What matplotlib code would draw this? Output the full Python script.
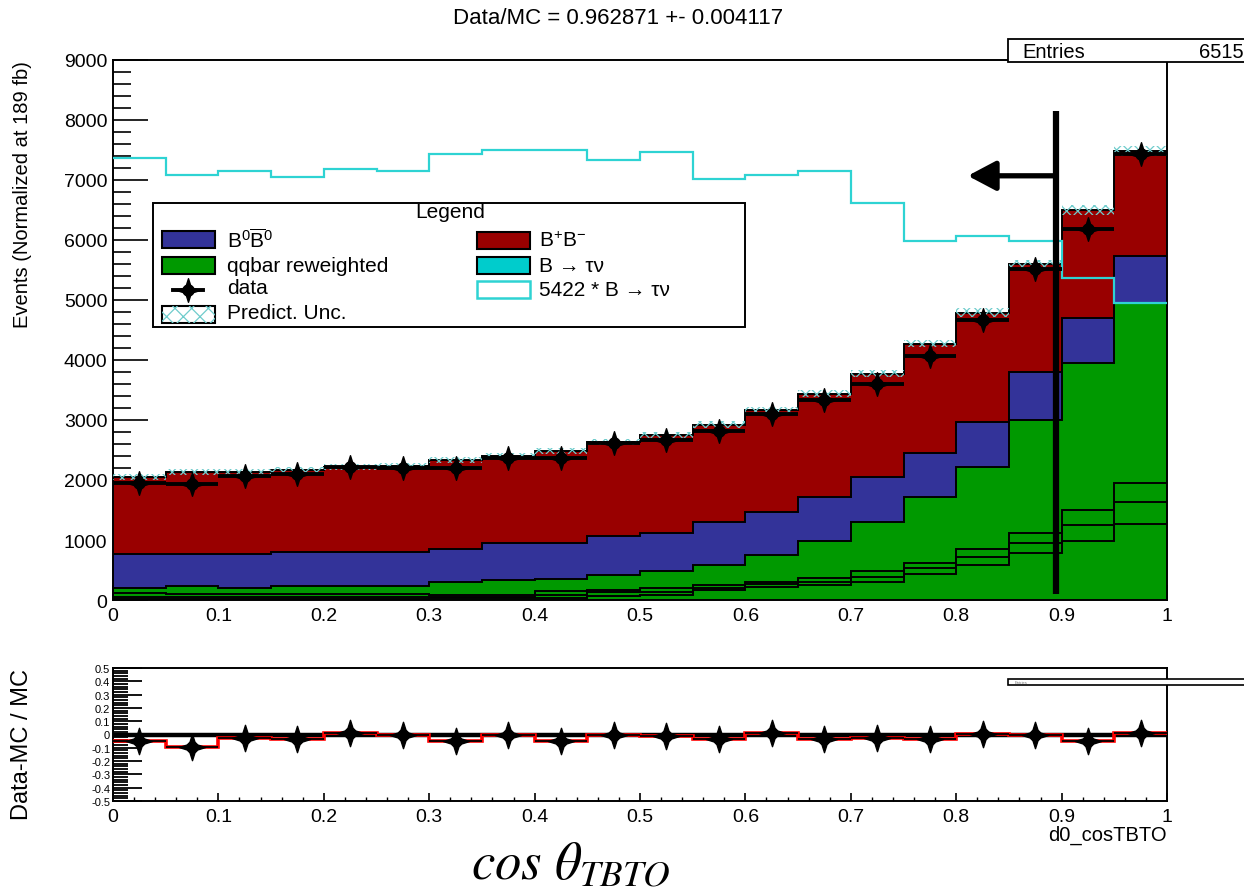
"""Stacked MC vs data plot for d0_cosTBTO with a Data-MC/MC ratio panel."""
import matplotlib

matplotlib.use("Agg")

import matplotlib.pyplot as plt
import numpy as np
from matplotlib.lines import Line2D
from matplotlib.patches import Rectangle
from matplotlib.path import Path
from matplotlib.ticker import FuncFormatter, MultipleLocator

# ---------------------------------------------------------------- data
N_BINS = 20
X_MIN, X_MAX = 0.0, 1.0

# qqbar reweighted, split in four stacked pieces (bottom to top)
qq_part1 = [20, 20, 20, 22, 22, 22, 30, 30, 40, 60, 90, 160, 222, 250, 305, 428, 583, 778, 983, 1267]
qq_part2 = [24, 24, 24, 22, 22, 22, 25, 25, 50, 79, 49, 45, 39, 55, 84, 111, 139, 166, 267, 361]
qq_part3 = [66, 56, 56, 56, 56, 56, 34, 34, 55, 28, 55, 45, 44, 56, 94, 83, 128, 178, 250, 316]
qq_part4 = [90, 128, 94, 128, 128, 128, 205, 244, 205, 255, 296, 333, 445, 622, 823, 1100, 1372, 1878, 2445, 3006]
b0b0bar = [560, 532, 566, 572, 572, 572, 556, 611, 594, 638, 621, 723, 711, 739, 750, 722, 750, 795, 750, 779]
bpbm = [1290, 1375, 1375, 1370, 1415, 1435, 1480, 1456, 1536, 1570, 1634, 1619, 1704, 1718, 1719, 1831, 1818, 1805, 1805, 1751]

# 5422 * B -> tau nu (open cyan histogram)
btaunu_scaled = [7367, 7083, 7145, 7045, 7178, 7150, 7433, 7500, 7500, 7328,
                 7461, 7017, 7083, 7145, 6617, 5990, 6073, 5990, 5360, 4950]

# prediction uncertainty (half width of the hatched band)
pred_unc = [45, 45, 45, 45, 45, 45, 48, 48, 50, 52, 52, 55, 57, 60, 62, 65, 70, 75, 80, 85]

data_counts = [1955, 1930, 2070, 2095, 2210, 2200, 2200, 2370, 2360, 2610,
               2660, 2820, 3100, 3340, 3600, 4075, 4675, 5520, 6185, 7435]
data_err = [44, 44, 46, 46, 47, 47, 47, 49, 49, 51, 52, 53, 56, 58, 60, 64, 68, 74, 79, 86]

ratio_points = [-0.047, -0.096, -0.029, -0.034, 0.011, -0.004, -0.047, -0.004, -0.047, -0.004,
                -0.009, -0.034, 0.011, -0.034, -0.030, -0.034, 0.004, -0.004, -0.047, 0.010]
ratio_err = [0.022, 0.022, 0.022, 0.022, 0.021, 0.021, 0.021, 0.020, 0.020, 0.019,
             0.019, 0.018, 0.018, 0.017, 0.016, 0.015, 0.014, 0.013, 0.012, 0.011]

TITLE = "Data/MC = 0.962871 +- 0.004117"
ENTRIES = "6515"
SIGNAL_SCALE = 5422

# cut marker
CUT_VALUE = 0.895
CUT_LOW, CUT_HIGH = 100, 8150
ARROW_Y = 7070
ARROW_TIP = 0.811

# ---------------------------------------------------------------- style
BPM_COLOR = "#990000"
B0_COLOR = "#333399"
QQ_COLOR = "#009900"
SIG_COLOR = "#00cccc"
SIG_LINE_COLOR = "#2ed3d3"
UNC_COLOR = "#6fcccc"

W, H = 1244, 895

plt.rcParams.update(
    {
        "font.family": ["Liberation Sans", "DejaVu Sans"],
        "axes.unicode_minus": False,
        "mathtext.fontset": "custom",
        "mathtext.rm": "Liberation Sans",
        "mathtext.it": "Liberation Serif:italic",
        "mathtext.bf": "Liberation Sans:bold",
        "hatch.linewidth": 0.9,
        "axes.linewidth": 1.4,
    }
)


def fx(x):
    return x / W


def fy(y):
    return 1 - y / H


def star_marker(inner=0.34):
    ang = np.deg2rad(np.arange(0, 360, 45))
    r = np.where(np.arange(8) % 2 == 0, 1.0, inner)
    verts = np.column_stack([r * np.sin(ang), r * np.cos(ang)])
    return Path(np.vstack([verts, verts[:1]]), closed=True)


STAR = star_marker()

edges = np.linspace(X_MIN, X_MAX, N_BINS + 1)
centers = 0.5 * (edges[:-1] + edges[1:])
half_w = 0.5 * (edges[1] - edges[0])

fig = plt.figure(figsize=(W / 100, H / 100), dpi=100)
ax = fig.add_axes([fx(113), fy(601), fx(1167) - fx(113), fy(61) - fy(601)])
ax_r = fig.add_axes([fx(113), fy(802), fx(1167) - fx(113), fy(669) - fy(802)])

# ---------------------------------------------------------------- main panel
components = [qq_part1, qq_part2, qq_part3, qq_part4, b0b0bar, bpbm]
comp_colors = [QQ_COLOR] * 4 + [B0_COLOR, BPM_COLOR]
bottom = np.zeros(N_BINS)
for vals, col in zip(components, comp_colors):
    top = bottom + np.asarray(vals, dtype=float)
    ax.stairs(top, edges, baseline=bottom, fill=True, color=col, lw=0, zorder=1)
    ax.stairs(top, edges, baseline=None, color="black", lw=1.4, zorder=2)
    bottom = top
total = bottom

unc = np.asarray(pred_unc, dtype=float)
ax.stairs(total + unc, edges, baseline=total - unc, fill=True, facecolor="none",
          edgecolor=UNC_COLOR, hatch="xxx", lw=0, zorder=3)

ax.stairs(btaunu_scaled, edges, baseline=None, color=SIG_LINE_COLOR, lw=1.6, zorder=4)

ax.errorbar(centers, data_counts, xerr=half_w, yerr=data_err, fmt="none",
            ecolor="black", elinewidth=2.8, capsize=0, zorder=6)
ax.plot(centers, data_counts, ls="none", marker=STAR, ms=17, color="black", zorder=7)
ax.plot(centers, data_counts, ls="none", marker="o", ms=8, color="black", zorder=7)

# cut line and arrow
ax.plot([CUT_VALUE, CUT_VALUE], [CUT_LOW, CUT_HIGH], color="black", lw=4.5,
        solid_capstyle="butt", zorder=10)
ax.annotate("", xy=(ARROW_TIP, ARROW_Y), xytext=(CUT_VALUE, ARROW_Y),
            arrowprops=dict(arrowstyle="-|>,head_length=0.85,head_width=0.45",
                            lw=3.8, color="black", shrinkA=0, shrinkB=0,
                            mutation_scale=20), zorder=10)

ax.set_xlim(X_MIN, X_MAX)
ax.set_ylim(0, 9000)
ax.set_axisbelow(True)
ax.yaxis.set_major_locator(MultipleLocator(1000))
ax.yaxis.set_minor_locator(MultipleLocator(200))
ax.xaxis.set_major_locator(MultipleLocator(0.1))
ax.xaxis.set_minor_locator(MultipleLocator(0.02))
ax.tick_params(axis="y", which="major", direction="in", length=25, width=1.2,
               labelsize=14, pad=4)
ax.tick_params(axis="y", which="minor", direction="in", length=13, width=1.2)
ax.tick_params(axis="x", which="major", direction="in", length=11, width=1.2,
               labelsize=14, pad=5)
ax.tick_params(axis="x", which="minor", direction="in", length=6, width=1.2)


def x_label_fmt(v, _):
    if abs(v) < 1e-9:
        return "0"
    if abs(v - 1) < 1e-9:
        return "1"
    return f"{v:.1f}"


ax.xaxis.set_major_formatter(FuncFormatter(x_label_fmt))

# ---------------------------------------------------------------- ratio panel
ax_r.axhline(0, color="black", lw=3.2, zorder=2)
ax_r.stairs(ratio_points, edges, baseline=None, color="red", lw=2.6, zorder=3)
ax_r.errorbar(centers, ratio_points, xerr=half_w, yerr=ratio_err, fmt="none",
              ecolor="black", elinewidth=1.3, capsize=0, zorder=4)
ax_r.plot(centers, ratio_points, ls="none", marker=STAR, ms=19, color="black", zorder=5)
ax_r.plot(centers, ratio_points, ls="none", marker="o", ms=8, color="black", zorder=5)

ax_r.set_xlim(X_MIN, X_MAX)
ax_r.set_ylim(-0.5, 0.5)
ax_r.yaxis.set_major_locator(MultipleLocator(0.1))
ax_r.yaxis.set_minor_locator(MultipleLocator(0.02))
ax_r.xaxis.set_major_locator(MultipleLocator(0.1))
ax_r.xaxis.set_minor_locator(MultipleLocator(0.02))
ax_r.tick_params(axis="y", which="major", direction="in", length=21, width=1.3,
                 labelsize=8, pad=2)
ax_r.tick_params(axis="y", which="minor", direction="in", length=11, width=1.3)
ax_r.tick_params(axis="x", which="major", direction="in", length=6, width=1.2,
                 labelsize=14, pad=5)
ax_r.tick_params(axis="x", which="minor", direction="in", length=3, width=1.0)
ax_r.xaxis.set_major_formatter(FuncFormatter(x_label_fmt))
ax_r.yaxis.set_major_formatter(FuncFormatter(lambda v, _: "0" if abs(v) < 1e-9 else f"{v:.1f}"))

# ---------------------------------------------------------------- texts
fig.text(fx(618), fy(18), TITLE, ha="center", va="center", fontsize=16)
fig.text(fx(23), fy(61), "Events (Normalized at 189 fb)", rotation=90,
         ha="center", va="top", fontsize=14.5)
fig.text(fx(22), fy(669), "Data-MC / MC", rotation=90, ha="center", va="top", fontsize=17)
fig.text(fx(1167), fy(835), "d0_cosTBTO", ha="right", va="center", fontsize=14.5)
fig.text(fx(571), fy(879), r"$cos\ \theta_{TBTO}$", math_fontfamily="stix",
         ha="center", va="baseline", fontsize=38)

# stats boxes (cut by the right edge, as in the original)
fig.add_artist(Rectangle((fx(1008), fy(63)), fx(1320) - fx(1008), fy(40) - fy(63),
                         transform=fig.transFigure, facecolor="white",
                         edgecolor="black", lw=1.3, zorder=5))
fig.text(fx(1022), fy(52), "Entries", ha="left", va="center", fontsize=14.5, zorder=6)
fig.text(fx(1199), fy(52), ENTRIES, ha="left", va="center", fontsize=14.5, zorder=6)
fig.add_artist(Rectangle((fx(1008), fy(686)), fx(1320) - fx(1008), fy(680) - fy(686),
                         transform=fig.transFigure, facecolor="white",
                         edgecolor="black", lw=1.2, zorder=5))
fig.text(fx(1015), fy(683), "Entries", ha="left", va="center", fontsize=3,
         color="#777777", zorder=6)

# ---------------------------------------------------------------- legend
fig.add_artist(Rectangle((fx(153), fy(328)), fx(745) - fx(153), fy(204) - fy(328),
                         transform=fig.transFigure, facecolor="white",
                         edgecolor="black", lw=1.4, zorder=5))
fig.text(fx(450), fy(213), "Legend", ha="center", va="center", fontsize=15, zorder=6)


def legend_box(x0, yc, **kw):
    fig.add_artist(Rectangle((fx(x0), fy(yc + 8.5)), fx(x0 + 53) - fx(x0), fy(yc - 8.5) - fy(yc + 8.5),
                             transform=fig.transFigure, zorder=6, **kw))


LABEL_FS = 15
legend_box(162, 240.5, facecolor=B0_COLOR, edgecolor="black", lw=1.5)
fig.text(fx(227), fy(240.5), r"B$^{0}\overline{\mathrm{B}}^{0}$", va="center",
         fontsize=LABEL_FS, zorder=6)
legend_box(162, 266, facecolor=QQ_COLOR, edgecolor="black", lw=1.5)
fig.text(fx(227), fy(266), "qqbar reweighted", va="center", fontsize=LABEL_FS, zorder=6)
fig.add_artist(Line2D([fx(173), fx(203)], [fy(290.7), fy(290.7)], color="black", lw=2.8,
                      transform=fig.transFigure, zorder=6))
fig.add_artist(Line2D([fx(188)], [fy(290.7)], marker=STAR, ms=17, color="black", ls="none",
                      transform=fig.transFigure, zorder=7))
fig.add_artist(Line2D([fx(188)], [fy(290.7)], marker="o", ms=8, color="black", ls="none",
                      transform=fig.transFigure, zorder=7))
fig.text(fx(227), fy(289), "data", va="center", fontsize=LABEL_FS, zorder=6)
legend_box(162, 315.5, facecolor="white", edgecolor="black", lw=1.5)
legend_box(162, 315.5, facecolor="none", edgecolor=UNC_COLOR, hatch="xx", lw=0)
fig.text(fx(227), fy(314), "Predict. Unc.", va="center", fontsize=LABEL_FS, zorder=6)

legend_box(477, 241, facecolor=BPM_COLOR, edgecolor="black", lw=1.5)
fig.text(fx(539), fy(241), r"B$^{+}$B$^{-}$", va="center", fontsize=LABEL_FS, zorder=6)
legend_box(477, 266, facecolor=SIG_COLOR, edgecolor="black", lw=1.5)
fig.text(fx(539), fy(266), "B \u2192 \u03c4\u03bd", va="center", fontsize=LABEL_FS, zorder=6)
legend_box(477, 290, facecolor="white", edgecolor=SIG_LINE_COLOR, lw=1.8)
fig.text(fx(539), fy(290), f"{SIGNAL_SCALE} * B \u2192 \u03c4\u03bd", va="center",
         fontsize=LABEL_FS, zorder=6)

fig.savefig("out.png", dpi=100)
